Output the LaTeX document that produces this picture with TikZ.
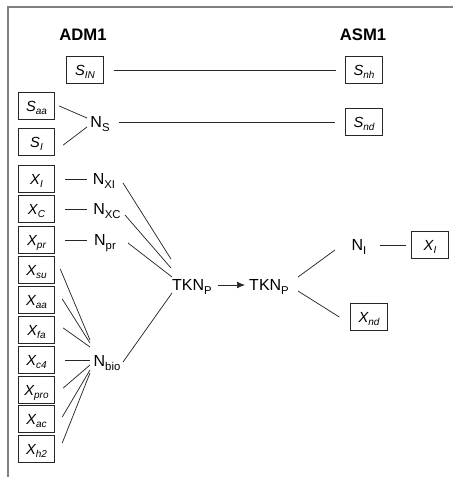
\documentclass[tikz,border=0pt]{standalone}
\usepackage{fontspec}
\setmainfont{Liberation Sans}
\usetikzlibrary{calc,arrows.meta}

% lowered, smaller subscript in the running font
\newcommand{\lowsub}[1]{\raisebox{-0.45ex}{\fontsize{8.5}{9}\selectfont #1}}
\newcommand{\boxsub}[1]{\raisebox{-0.45ex}{\fontsize{7.5}{8}\selectfont #1}}
\newcommand{\var}[2]{\textit{#1\boxsub{#2}}}
\newcommand{\nit}[1]{N\lowsub{#1}}

\begin{document}
\begin{tikzpicture}[x=0.75pt,y=-0.75pt,
  every node/.style={font=\fontsize{12}{14}\selectfont},
  head/.style={font=\fontsize{12.5}{14}\selectfont\bfseries},
  varbox/.style={draw=black!85, line width=0.6pt, minimum width=27.5pt,
    minimum height=20pt, inner sep=0pt, text height=7.8pt, text depth=0pt,
    font=\fontsize{11}{13}\selectfont},
  label/.style={inner sep=0pt, text height=8.4pt, text depth=0pt},
  link/.style={draw=black!85, line width=0.55pt},
  frame/.style={draw=black!50, line width=1.3pt}]

\useasboundingbox (0,0) rectangle (453,477);
\draw[frame] (8,477) -- (8,7) -- (453,7);

% headings
\node[head] (adm) at (83,35) {ADM1};
\node[head] (asm) at (363,35) {ASM1};

% ADM1 state variables
\node[varbox] (sin)  at (85,70)    {\var{S}{IN}};
\node[varbox] (saa)  at (36.5,106) {\var{S}{aa}};
\node[varbox] (si)   at (36.5,142) {\var{S}{I}};
\node[varbox] (xi)   at (36.5,179) {\var{X}{I}};
\node[varbox] (xc)   at (36.5,209) {\var{X}{C}};
\node[varbox] (xpr)  at (36.5,240) {\var{X}{pr}};
\node[varbox] (xsu)  at (36.5,270) {\var{X}{su}};
\node[varbox] (xaa)  at (36.5,300) {\var{X}{aa}};
\node[varbox] (xfa)  at (36.5,330) {\var{X}{fa}};
\node[varbox] (xcf)  at (36.5,360) {\var{X}{c4}};
\node[varbox] (xpro) at (36.5,390) {\var{X}{pro}};
\node[varbox] (xac)  at (36.5,419) {\var{X}{ac}};
\node[varbox] (xht)  at (36.5,449) {\var{X}{h2}};

% ASM1 state variables
\node[varbox] (snh) at (364,70)  {\var{S}{nh}};
\node[varbox] (snd) at (364,122) {\var{S}{nd}};
\node[varbox] (xir) at (430,245) {\var{X}{I}};
\node[varbox] (xnd) at (369,317) {\var{X}{nd}};

% nitrogen pools
\node[label] (ns)   at (100,122) {\nit{S}};
\node[label] (nxi)  at (104,179) {\nit{XI}};
\node[label] (nxc)  at (107,209) {\nit{XC}};
\node[label] (npr)  at (105,240) {\nit{pr}};
\node[label] (nbio) at (107,361) {\nit{bio}};
\node[label] (tka)  at (192,285) {TKN\lowsub{P}};
\node[label] (tkb)  at (269,285) {TKN\lowsub{P}};
\node[label] (ni)   at (359,245) {\nit{I}};

% direct mappings
\draw[link] ($(sin.east)+(10,0)$) -- ($(snh.west)+(-9,0)$);
\draw[link] ($(ns.center)+(19,0)$) -- ($(snd.west)+(-10,0)$);

% soluble nitrogen
\draw[link] ($(saa.east)+(4,0)$) -- ($(ns.center)+(-13,-4)$);
\draw[link] ($(si.east)+(8,3)$) -- ($(ns.center)+(-13,5)$);

% particulate nitrogen
\draw[link] ($(xi.east)+(10,0)$) -- ($(nxi.center)+(-17,0)$);
\draw[link] ($(xc.east)+(10,0)$) -- ($(nxc.center)+(-20,0)$);
\draw[link] ($(xpr.east)+(10,0)$) -- ($(npr.center)+(-18,0)$);

% biomass nitrogen
\draw[link] ($(xsu.east)+(5,-1)$) -- ($(nbio.center)+(-17,-21)$);
\draw[link] ($(xaa.east)+(7,-1)$) -- ($(nbio.center)+(-17,-18)$);
\draw[link] ($(xfa.east)+(8,-2)$) -- ($(nbio.center)+(-17,-14)$);
\draw[link] ($(xcf.east)+(10,0)$) -- ($(nbio.center)+(-17,-1)$);
\draw[link] ($(xpro.east)+(8,-2)$) -- ($(nbio.center)+(-17,4)$);
\draw[link] ($(xac.east)+(7,-2)$) -- ($(nbio.center)+(-17,9)$);
\draw[link] ($(xht.east)+(7,-6)$) -- ($(nbio.center)+(-17,12)$);

% collection into TKN
\draw[link] ($(nxi.center)+(19,4)$) -- ($(tka.center)+(-21,-26)$);
\draw[link] ($(nxc.center)+(18,6)$) -- ($(tka.center)+(-21,-17)$);
\draw[link] ($(npr.center)+(23,3)$) -- ($(tka.center)+(-20,-8)$);
\draw[link] ($(nbio.center)+(16,1)$) -- ($(tka.center)+(-20,8)$);

% transfer and split on the ASM1 side
\draw[link, -{Latex[length=6pt,width=5pt]}] ($(tka.center)+(26,0)$) -- ($(tkb.center)+(-24,0)$);
\draw[link] ($(tkb.center)+(29,-8)$) -- ($(ni.center)+(-24,5)$);
\draw[link] ($(tkb.center)+(29,6)$) -- ($(xnd.west)+(-11,0)$);
\draw[link] ($(ni.center)+(21,0)$) -- ($(xir.west)+(-5,0)$);
\end{tikzpicture}
\end{document}
